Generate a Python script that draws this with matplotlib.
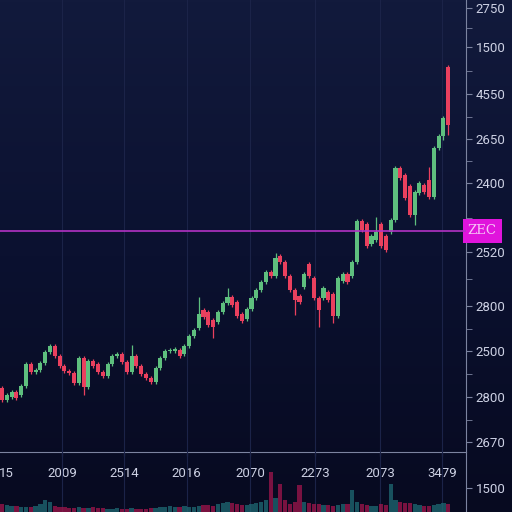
import numpy as np
import matplotlib.pyplot as plt
from matplotlib.colors import LinearSegmentedColormap

# ---------------- DATA ----------------
opens = [64, 52, 55, 60, 57, 66, 88, 80, 82, 89, 100, 106, 96, 86, 81, 79, 69, 94, 65, 91,
         88, 80, 76, 88, 96, 98, 90, 80, 96, 86, 78, 74, 70, 84, 94, 101, 101, 102, 98, 106,
         116, 124, 142, 140, 132, 130, 140, 149, 155, 150, 138, 133, 143, 154, 162, 170, 180, 176, 196, 190,
         176, 162, 156, 165, 188, 174, 154, 154, 160, 158, 136, 171, 178, 176, 190, 231, 228, 208, 212, 228,
         216, 220, 232, 284, 277, 266, 237, 259, 267, 272, 255, 304, 316, 385]
closes = [52, 57, 60, 54, 66, 88, 80, 82, 89, 100, 106, 96, 86, 81, 79, 69, 94, 65, 91, 86,
          80, 76, 88, 96, 98, 90, 80, 96, 86, 78, 74, 70, 84, 94, 101, 102, 103, 96, 106, 116,
          122, 138, 135, 127, 125, 140, 149, 155, 147, 136, 131, 143, 154, 162, 170, 180, 176, 194, 190, 176,
          162, 152, 150, 178, 176, 154, 142, 164, 152, 136, 174, 178, 170, 190, 231, 222, 206, 216, 220, 206,
          202, 232, 284, 274, 254, 237, 260, 269, 260, 255, 304, 316, 334, 327]
# long wicks that stand out (index: (high, low))
wicks = {10: (108, 98), 17: (96, 57), 27: (107, 78), 41: (155, 122), 44: (134, 114),
         47: (164, 147), 57: (199, 174), 61: (164, 137), 66: (156, 125), 69: (160, 129),
         78: (235, 210), 86: (262, 227), 89: (285, 253), 92: (336, 312), 93: (387, 317)}
volumes = [8, 7, 6, 6, 5, 5, 5, 6, 8, 12, 10, 6, 5, 5, 4, 4, 5, 4, 4, 5,
           4, 4, 3, 3, 4, 3, 3, 4, 3, 3, 3, 4, 4, 5, 5, 6, 5, 5, 6, 5,
           5, 6, 7, 7, 6, 8, 9, 10, 9, 8, 7, 7, 8, 9, 10, 12, 40, 14, 28, 12,
           8, 10, 27, 10, 9, 8, 8, 7, 7, 6, 7, 8, 8, 22, 10, 8, 7, 6, 6, 8,
           7, 28, 12, 10, 9, 9, 8, 7, 6, 6, 7, 8, 9, 8]

ytick_pos = [444, 405, 358, 313, 269, 200, 146, 101, 55, 10]
ytick_labels = ['2750', '1500', '4550', '2650', '2400', '2520', '2800', '2500', '2800', '2670']
marker_level = 221
marker_label = 'ZEC'
xtick_pos = [1.0, 12.5, 25.4, 38.5, 51.7, 65.2, 78.8, 91.7]
xtick_labels = ['15', '2009', '2514', '2016', '2070', '2273', '2073', '3479']

# ---------------- STYLE ----------------
plt.rcParams['font.family'] = ['Roboto', 'DejaVu Sans']
UP = '#5ebf7e'
DOWN = '#ea405e'
AXC = '#7c84a0'
TXT = '#cdd1e4'

fig = plt.figure(figsize=(5.12, 5.12), dpi=100)

# background gradient
bg = fig.add_axes([0, 0, 1, 1])
cmap = LinearSegmentedColormap.from_list('bg', ['#070a20', '#0b1130', '#121a3c'])
bg.imshow(np.linspace(0, 1, 256).reshape(-1, 1), aspect='auto', cmap=cmap,
          origin='lower', extent=[0, 1, 0, 1])
bg.axis('off')

ax = fig.add_axes([0, 60 / 512, 466 / 512, 452 / 512])
vax = fig.add_axes([0, 0, 466 / 512, 60 / 512], sharex=ax)
for a in (ax, vax):
    a.patch.set_alpha(0)
    for s in ('left', 'top'):
        a.spines[s].set_visible(False)
    a.spines['right'].set_color(AXC)
ax.spines['bottom'].set_color(AXC)
vax.spines['bottom'].set_visible(False)

x = np.arange(len(opens))
o = np.array(opens)
c = np.array(closes)
colors = [UP if cc >= oo else DOWN for oo, cc in zip(o, c)]
highs = np.maximum(o, c) + 2
lows = np.minimum(o, c) - 2
for i, (h, l) in wicks.items():
    highs[i], lows[i] = h, l

ax.vlines(x, lows, highs, colors=colors, lw=0.9, zorder=2)
ax.bar(x, np.maximum(np.abs(c - o), 1.5), bottom=np.minimum(o, c), width=0.85,
       color=colors, zorder=3)

# vertical grid
for xp in xtick_pos[1:]:
    ax.axvline(xp, color='#1b2348', lw=0.8, zorder=0)
    vax.axvline(xp, color='#1b2348', lw=0.8, zorder=0)

# price marker line + label
ax.axhline(marker_level, color='#b232c4', lw=1.2, zorder=4)
ax.text(1.004, marker_level, marker_label, transform=ax.get_yaxis_transform(),
        va='center', ha='left', fontsize=9.5, color='#f6c8f6', family='DejaVu Serif',
        bbox=dict(boxstyle='square,pad=0.4', fc='#e014dc', ec='none'), clip_on=False)

ax.yaxis.tick_right()
ax.set_yticks(ytick_pos, ytick_labels)
minor = [(ytick_pos[k] + ytick_pos[k + 1]) / 2 for k in range(len(ytick_pos) - 1)]
ax.set_yticks(minor, minor=True)
ax.tick_params(axis='y', which='both', colors=AXC, labelcolor=TXT, labelsize=9.5,
               length=4, pad=3)
ax.set_xticks(xtick_pos, xtick_labels)
ax.tick_params(axis='x', colors=AXC, labelcolor=TXT, labelsize=9.5, length=3, pad=8)
ax.xaxis.get_major_ticks()[0].tick1line.set_visible(False)
ax.set_xlim(-0.42, 96.7)
ax.set_ylim(0, 452)

# volume
vax.bar(x, volumes, width=0.9, color=['#1f6a74' if col == UP else '#a0164c' for col in colors],
        alpha=0.75)
vax.yaxis.tick_right()
vax.set_yticks([24], ['1500'])
vax.tick_params(axis='y', colors=AXC, labelcolor=TXT, labelsize=9.5, length=4, pad=3)
vax.tick_params(axis='x', bottom=False, labelbottom=False)
vax.set_ylim(0, 60)

fig.savefig('out.png', dpi=100, facecolor='#0a0f2c')
